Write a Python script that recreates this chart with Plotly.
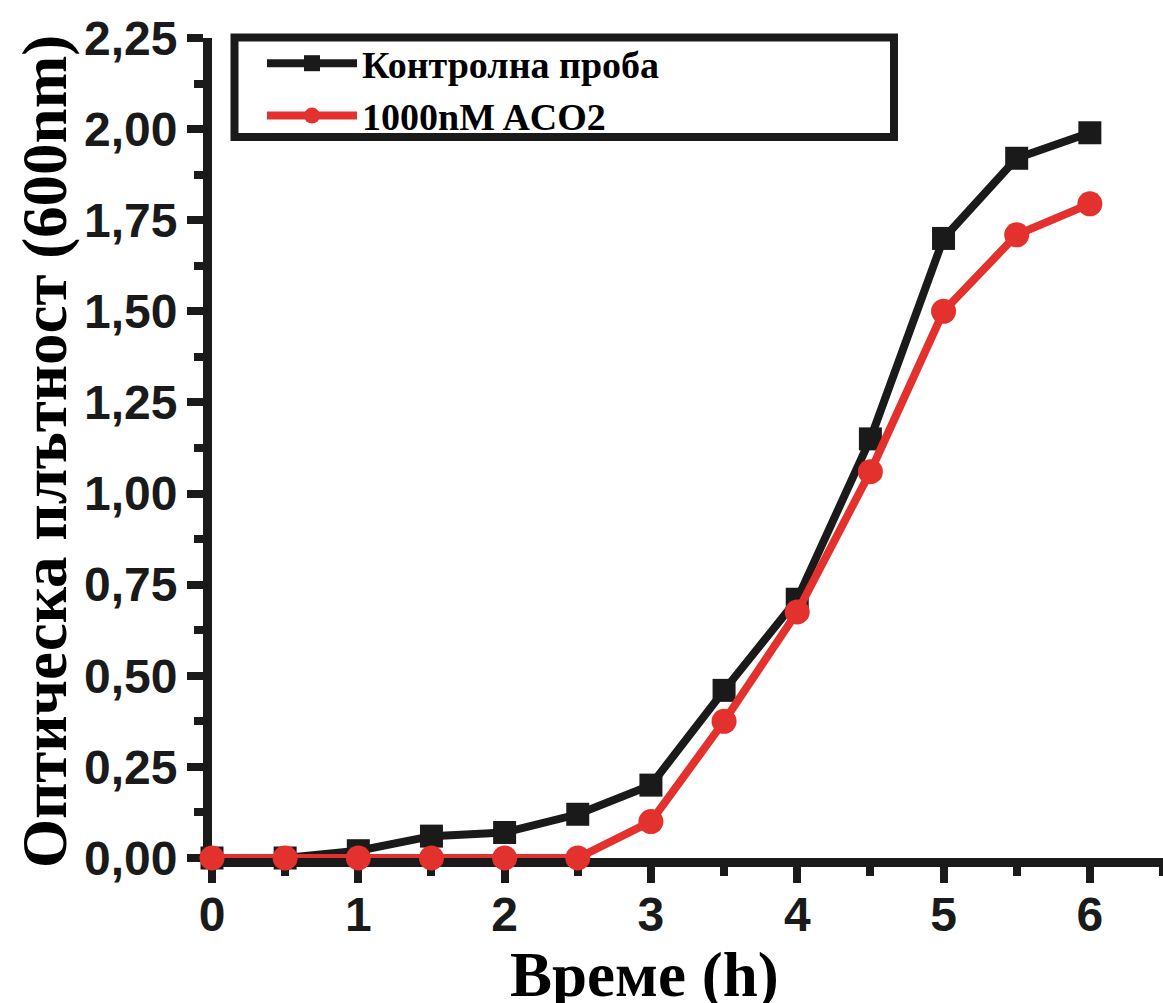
import plotly.graph_objects as go

time_h = [0, 0.5, 1, 1.5, 2, 2.5, 3, 3.5, 4, 4.5, 5, 5.5, 6]
control = [0.0, 0.0, 0.02, 0.06, 0.07, 0.12, 0.20, 0.46, 0.71, 1.15, 1.70, 1.92, 1.99]
aco2 = [0.0, 0.0, 0.0, 0.0, 0.0, 0.0, 0.10, 0.375, 0.675, 1.06, 1.50, 1.71, 1.795]

series_names = ["Контролна проба", "1000nM ACO2"]
x_tickvals = [0, 1, 2, 3, 4, 5, 6]
x_ticktext = ["0", "1", "2", "3", "4", "5", "6"]
y_tickvals = [0, 0.25, 0.5, 0.75, 1.0, 1.25, 1.5, 1.75, 2.0, 2.25]
y_ticktext = ["0,00", "0,25", "0,50", "0,75", "1,00", "1,25", "1,50", "1,75", "2,00", "2,25"]
x_title = "Време (h)"
y_title = "Оптическа плътност (600nm)"

BLACK = "#1a1a1a"
RED = "#e3322e"

# plot area in pixels
L, T, W, H = 212, 38, 951, 820
def px_x(p):
    return (p - L) / W
def px_y(p):
    return (T + H - p) / H

fig = go.Figure()
fig.add_trace(go.Scatter(
    x=time_h, y=control, name=series_names[0], mode="lines+markers",
    line=dict(color=BLACK, width=8),
    marker=dict(symbol="square", size=23, color=BLACK),
    cliponaxis=False,
))
fig.add_trace(go.Scatter(
    x=time_h, y=aco2, name=series_names[1], mode="lines+markers",
    line=dict(color=RED, width=8),
    marker=dict(symbol="circle", size=25, color=RED),
    cliponaxis=False,
))

tick_font = dict(family="Liberation Sans, Arial, sans-serif", size=48, color=BLACK, weight="bold")
title_font = dict(family="Liberation Serif, Times New Roman, serif", size=63, color="black", weight="bold")

fig.update_layout(
    width=1163, height=1003,
    margin=dict(l=L, r=0, t=T, b=1003 - T - H),
    paper_bgcolor="white", plot_bgcolor="white",
    showlegend=True,
    legend=dict(
        x=px_x(262), y=px_y(32), xanchor="left", yanchor="top",
        bgcolor="rgba(0,0,0,0)", borderwidth=0,
        font=dict(family="Liberation Serif, Times New Roman, serif", size=38, color="black", weight="bold"),
        tracegroupgap=0, itemsizing="trace", itemwidth=90,
    ),
    xaxis=dict(
        range=[0, 6.5], showgrid=False, zeroline=False,
        showline=True, linecolor=BLACK, linewidth=9, layer="below traces",
        tickmode="array", tickvals=x_tickvals, ticktext=x_ticktext,
        ticks="outside", ticklen=16, tickwidth=8, tickcolor=BLACK,
        ticklabelstandoff=-10,
        minor=dict(dtick=0.5, tick0=0, ticks="outside", ticklen=9, tickwidth=8, tickcolor=BLACK),
        tickfont=tick_font,
    ),
    yaxis=dict(
        range=[0, 2.25], showgrid=False, zeroline=False,
        showline=True, linecolor=BLACK, linewidth=9, layer="below traces",
        tickmode="array", tickvals=y_tickvals, ticktext=y_ticktext,
        ticks="outside", ticklen=16, tickwidth=8, tickcolor=BLACK,
        minor=dict(dtick=0.125, tick0=0, ticks="outside", ticklen=9, tickwidth=8, tickcolor=BLACK),
        tickfont=tick_font,
    ),
    annotations=[
        dict(text=x_title, xref="paper", yref="paper", x=px_x(644), y=px_y(975),
             xanchor="center", yanchor="middle", showarrow=False, font=title_font),
        dict(text=y_title, xref="paper", yref="paper", x=px_x(45), y=px_y(452),
             xanchor="center", yanchor="middle", showarrow=False, textangle=-90, font=title_font),
    ],
    shapes=[
        dict(type="rect", xref="paper", yref="paper",
             x0=px_x(234.5), x1=px_x(894), y0=px_y(137), y1=px_y(37.5),
             line=dict(color=BLACK, width=8), fillcolor="rgba(0,0,0,0)"),
    ],
)

fig.write_html("out.html")
